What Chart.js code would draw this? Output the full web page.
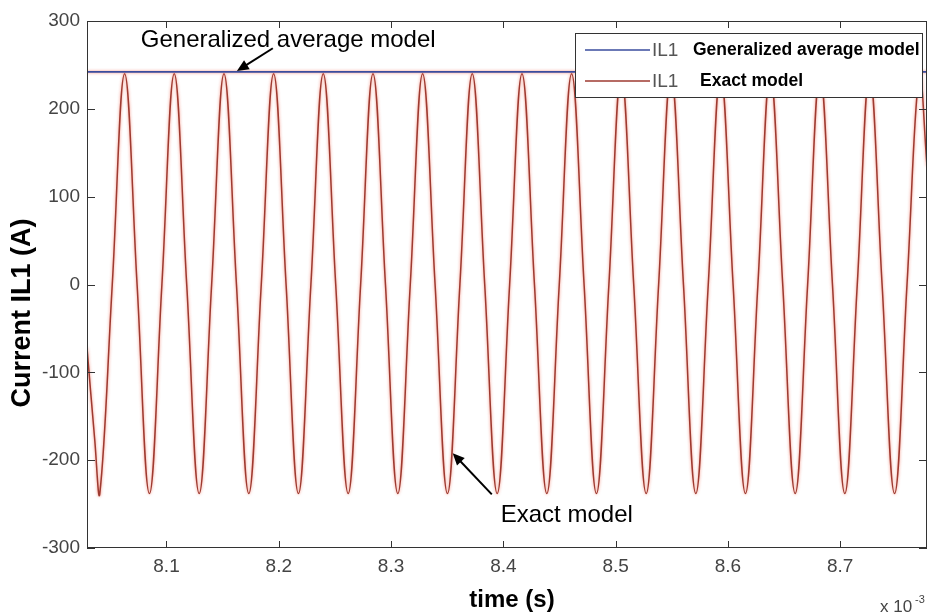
<!DOCTYPE html>
<html>
<head>
<meta charset="utf-8">
<title>Current IL1</title>
<script src="https://cdn.jsdelivr.net/npm/chart.js@4.4.1/dist/chart.umd.min.js"></script>
<style>
  body { margin: 0; background: #fff; }
  canvas { display: block; }
</style>
</head>
<body>
<canvas id="myChart" width="933" height="613"></canvas>
<script>
"use strict";

// time axis in ms (x 10^-3 s)
const xMin = 8.0292;
const xMax = 8.7773;
const xTickValues = [8.1, 8.2, 8.3, 8.4, 8.5, 8.6, 8.7];
const yTickValues = [-300, -200, -100, 0, 100, 200, 300];

// exact model: peaks, zero crossings and troughs
const timeMs = [
  8.0292, 8.0361, 8.0406, 8.0517, 8.0627, 8.0738, 8.0848, 8.0959, 8.1069, 8.118,
  8.1291, 8.1402, 8.1512, 8.1623, 8.1733, 8.1844, 8.1954, 8.2065, 8.2175, 8.2286,
  8.2396, 8.2507, 8.2618, 8.2729, 8.2839, 8.295, 8.306, 8.3171, 8.3281, 8.3392,
  8.3502, 8.3613, 8.3723, 8.3834, 8.3945, 8.4056, 8.4166, 8.4277, 8.4387, 8.4498,
  8.4608, 8.4719, 8.4829, 8.494, 8.505, 8.5161, 8.5272, 8.5383, 8.5493, 8.5604,
  8.5714, 8.5825, 8.5935, 8.6046, 8.6156, 8.6267, 8.6377, 8.6488, 8.6599, 8.671,
  8.682, 8.6931, 8.7041, 8.7152, 8.7262, 8.7373, 8.7484, 8.7595, 8.7705, 8.7773
];
const exactIL1 = [
  -72, -177, -238, 0, 240, 0, -238, 0, 240, 0,
  -238, 0, 240, 0, -238, 0, 240, 0, -238, 0,
  240, 0, -238, 0, 240, 0, -238, 0, 240, 0,
  -238, 0, 240, 0, -238, 0, 240, 0, -238, 0,
  240, 0, -238, 0, 240, 0, -238, 0, 240, 0,
  -238, 0, 240, 0, -238, 0, 240, 0, -238, 0,
  240, 0, -238, 0, 240, 0, -238, 0, 240, 135
];

// generalized average model: flat envelope
const avgTime = [8.0292, 8.7773];
const avgIL1 = [242, 242];

const blue = "#3a4c9e";
const red = "#9e3a30";

// notes and arrows, in data units
const notes = [
  { text: "Generalized average model", x: 8.0771, y: 270, from: [8.1947, 269], to: [8.1627, 243] },
  { text: "Exact model", x: 8.3977, y: -270, from: [8.3897, -239], to: [8.3549, -192] },
];

function arrow(ctx, x1, y1, x2, y2) {
  const ang = Math.atan2(y2 - y1, x2 - x1);
  const len = 13;
  ctx.beginPath();
  ctx.moveTo(x1, y1);
  ctx.lineTo(x2 - Math.cos(ang) * len * 0.7, y2 - Math.sin(ang) * len * 0.7);
  ctx.stroke();
  ctx.beginPath();
  ctx.moveTo(x2, y2);
  ctx.lineTo(x2 - len * Math.cos(ang - 0.42), y2 - len * Math.sin(ang - 0.42));
  ctx.lineTo(x2 - len * Math.cos(ang + 0.42), y2 - len * Math.sin(ang + 0.42));
  ctx.closePath();
  ctx.fill();
}

// soft salmon halo like the scanned original
const haloPlugin = {
  id: "halo",
  beforeDatasetDraw(chart) {
    const ctx = chart.ctx;
    ctx.save();
    ctx.shadowColor = "rgba(240,110,90,0.85)";
    ctx.shadowBlur = 3;
  },
  afterDatasetDraw(chart) {
    chart.ctx.restore();
  },
};

const framePlugin = {
  id: "frame",
  afterDraw(chart) {
    const ctx = chart.ctx;
    const area = chart.chartArea;
    const xs = chart.scales.x;
    const ys = chart.scales.y;
    ctx.save();

    // box and inward ticks
    ctx.strokeStyle = "#333";
    ctx.lineWidth = 1;
    ctx.strokeRect(area.left + 0.5, area.top + 0.5, area.right - area.left - 1, area.bottom - area.top - 1);
    ctx.beginPath();
    xs.ticks.forEach((t) => {
      const px = Math.round(xs.getPixelForValue(t.value)) + 0.5;
      ctx.moveTo(px, area.bottom);
      ctx.lineTo(px, area.bottom - 7);
      ctx.moveTo(px, area.top);
      ctx.lineTo(px, area.top + 7);
    });
    ys.ticks.forEach((t) => {
      const py = Math.round(ys.getPixelForValue(t.value)) + 0.5;
      ctx.moveTo(area.left, py);
      ctx.lineTo(area.left + 8, py);
      ctx.moveTo(area.right, py);
      ctx.lineTo(area.right - 8, py);
    });
    ctx.stroke();

    // annotations
    ctx.fillStyle = "#000";
    ctx.strokeStyle = "#000";
    ctx.lineWidth = 2;
    ctx.font = "24px 'Liberation Sans', Arial, sans-serif";
    ctx.textAlign = "left";
    ctx.textBaseline = "alphabetic";
    notes.forEach((n) => {
      ctx.fillText(n.text, xs.getPixelForValue(n.x), ys.getPixelForValue(n.y));
      arrow(ctx,
        xs.getPixelForValue(n.from[0]), ys.getPixelForValue(n.from[1]),
        xs.getPixelForValue(n.to[0]), ys.getPixelForValue(n.to[1]));
    });

    // legend box
    const lx = 575, ly = 33, lw = 347, lh = 64;
    ctx.fillStyle = "#fff";
    ctx.fillRect(lx, ly, lw, lh);
    ctx.strokeStyle = "#333";
    ctx.lineWidth = 1;
    ctx.strokeRect(lx + 0.5, ly + 0.5, lw, lh);
    const rows = [
      { color: blue, label: "Generalized average model", y: 50, tx: 693 },
      { color: red, label: "Exact model", y: 81, tx: 700 },
    ];
    rows.forEach((r) => {
      ctx.strokeStyle = r.color;
      ctx.lineWidth = 1.5;
      ctx.beginPath();
      ctx.moveTo(585, r.y);
      ctx.lineTo(650, r.y);
      ctx.stroke();
      ctx.textBaseline = "middle";
      ctx.fillStyle = "#555";
      ctx.font = "19px 'Liberation Sans', Arial, sans-serif";
      ctx.fillText("IL1", 652, r.y + 1);
      ctx.fillStyle = "#000";
      ctx.font = "bold 17.5px 'Liberation Sans', Arial, sans-serif";
      ctx.fillText(r.label, r.tx, r.y);
    });

    // axis titles
    ctx.fillStyle = "#000";
    ctx.font = "bold 24px 'Liberation Sans', Arial, sans-serif";
    ctx.textAlign = "center";
    ctx.textBaseline = "middle";
    ctx.fillText("time (s)", 512, 600);
    ctx.save();
    ctx.translate(23, 313);
    ctx.rotate(-Math.PI / 2);
    ctx.font = "bold 27px 'Liberation Sans', Arial, sans-serif";
    ctx.fillText("Current IL1 (A)", 0, 0);
    ctx.restore();

    // exponent
    ctx.fillStyle = "#444";
    ctx.textAlign = "left";
    ctx.textBaseline = "alphabetic";
    ctx.font = "17px 'Liberation Sans', Arial, sans-serif";
    ctx.fillText("x 10", 880, 612);
    ctx.font = "11px 'Liberation Sans', Arial, sans-serif";
    ctx.fillText("-3", 915, 603);
    ctx.restore();
  },
};

const ctx = document.getElementById("myChart");

new Chart(ctx, {
  type: "line",
  data: {
    datasets: [
      {
        label: "IL1 Generalized average model",
        data: avgTime.map((t, i) => ({ x: t, y: avgIL1[i] })),
        borderColor: blue,
        borderWidth: 1.7,
        pointRadius: 0,
      },
      {
        label: "IL1 Exact model",
        data: timeMs.map((t, i) => ({ x: t, y: exactIL1[i] })),
        borderColor: red,
        borderWidth: 1.5,
        pointRadius: 0,
        tension: 0.4,
      },
    ],
  },
  options: {
    responsive: false,
    animation: false,
    devicePixelRatio: 1,
    layout: { padding: { left: 0, right: 6, top: 21, bottom: 0 } },
    plugins: {
      legend: { display: false },
      tooltip: { enabled: false },
    },
    scales: {
      x: {
        type: "linear",
        min: xMin,
        max: xMax,
        afterBuildTicks: (s) => { s.ticks = xTickValues.map((v) => ({ value: v })); },
        afterFit: (s) => { s.height = 65; },
        grid: { display: false, drawTicks: false },
        border: { display: false },
        ticks: {
          padding: 7,
          color: "#444",
          font: { family: "'Liberation Sans', Arial, sans-serif", size: 19 },
          callback: (v) => v.toFixed(1),
          maxRotation: 0,
        },
      },
      y: {
        min: -300,
        max: 300,
        afterBuildTicks: (s) => { s.ticks = yTickValues.map((v) => ({ value: v })); },
        afterFit: (s) => { s.width = 87; },
        grid: { display: false, drawTicks: false },
        border: { display: false },
        ticks: {
          padding: 7,
          color: "#444",
          font: { family: "'Liberation Sans', Arial, sans-serif", size: 19 },
        },
      },
    },
  },
  plugins: [haloPlugin, framePlugin],
});
</script>
</body>
</html>
